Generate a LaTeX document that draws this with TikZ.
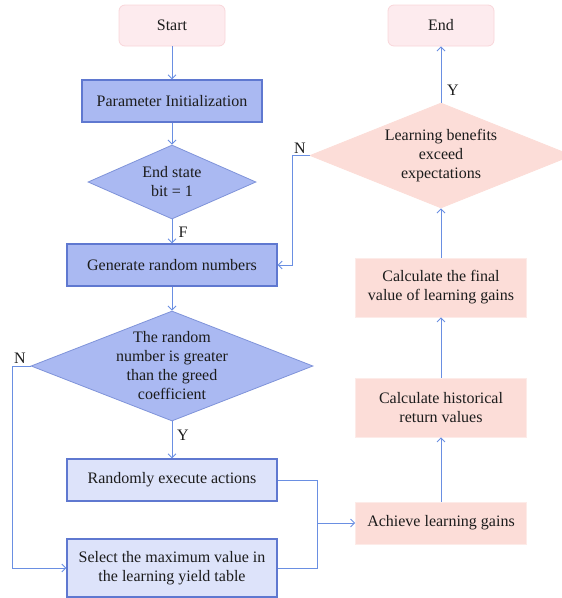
\documentclass[tikz,border=0pt]{standalone}
\usepackage{fontspec}
\setmainfont{Liberation Serif}
\usepackage{tikz}
\usetikzlibrary{arrows.meta,positioning,shapes.geometric}
\definecolor{flowline}{HTML}{6A8FE2}
\definecolor{termfill}{HTML}{FDEBEE}
\definecolor{termdraw}{HTML}{F9D6DA}
\definecolor{gainfill}{HTML}{FCDDD8}
\definecolor{stepfill}{HTML}{AAB9F2}
\definecolor{stepdraw}{HTML}{5F78D0}
\definecolor{softfill}{HTML}{DDE3FA}
\definecolor{ink}{HTML}{1C1C1C}

\begin{document}
\begin{tikzpicture}[x=1pt,y=-1pt,
  every node/.style={font=\fontsize{16}{19}\selectfont,text=ink},
  term/.style={rectangle,rounded corners=6pt,minimum width=106pt,minimum height=41pt,
    draw=termdraw,fill=termfill,line width=0.8pt},
  box/.style={rectangle,minimum width=180pt,minimum height=42pt,align=center,
    draw=stepdraw,fill=stepfill,line width=1.2pt},
  softbox/.style={box,minimum width=210pt,fill=softfill},
  gainbox/.style={rectangle,minimum width=171pt,minimum height=42pt,align=center,
    fill=gainfill,draw=gainfill!60!white,line width=0.6pt},
  dec/.style={diamond,aspect=2.4,inner sep=-3pt,align=center,fill=stepfill,
    draw=stepdraw!80,line width=0.8pt},
  arr/.style={-{Straight Barb[length=4pt,width=8pt]},draw=flowline,line width=0.9pt},
  line/.style={draw=flowline,line width=0.9pt},
]
  \useasboundingbox (0,0) rectangle (562,598);

  % left column
  \node[term] (start) at (172,25.5) {Start};
  \node[box] (init) at (172,101) {Parameter Initialization};
  \node[dec,minimum width=168pt,minimum height=74pt] (state) at (172,182) {End state\\bit = 1};
  \node[box,minimum width=210pt] (gen) at (172,265) {Generate random numbers};
  \node[dec,minimum width=282pt,minimum height=110pt] (cmp) at (172,366)
    {The random\\number is greater\\than the greed\\coefficient};
  \node[softbox] (rnd) at (172,480) {Randomly execute actions};
  \node[softbox,minimum height=58pt] (sel) at (172,568) {Select the maximum value in\\the learning yield table};

  % right column
  \node[term] (end) at (441,25.5) {End};
  \node[dec,minimum width=262pt,minimum height=105pt,fill=gainfill,draw=gainfill] (learn) at (441,155.5)
    {Learning benefits\\exceed\\expectations};
  \node[gainbox,minimum height=59pt] (final) at (441,287.5) {Calculate the final\\value of learning gains};
  \node[gainbox,minimum height=59pt] (hist) at (441,407.5) {Calculate historical\\return values};
  \node[gainbox] (gain) at (441,523) {Achieve learning gains};
  \coordinate (merge) at (317,523);

  \draw[arr] (start) -- (init);
  \draw[arr] (init) -- (state);
  \draw[arr] (state) -- (gen);
  \draw[arr] (gen) -- (cmp);
  \draw[arr] (cmp) -- (rnd);
  \draw[arr] (cmp.west) -- ++(-18,0) |- (sel.west);
  \draw[line] (rnd.east) -| (merge);
  \draw[line] (sel.east) -| (merge);
  \draw[arr] (merge) -- (gain);
  \draw[arr] (gain) -- (hist);
  \draw[arr] (hist) -- (final);
  \draw[arr] (final) -- (learn);
  \draw[arr] (learn) -- (end);
  \draw[arr] (learn.west) -- ++(-17,0) |- (gen.east);

  % branch labels
  \node (lblF) at (183,232) {F};
  \node (lblY) at (183,435) {Y};
  \node (lblN) at (20,358) {N};
  \node (lblYend) at (453,90) {Y};
  \node (lblNback) at (300,148) {N};
\end{tikzpicture}
\end{document}
